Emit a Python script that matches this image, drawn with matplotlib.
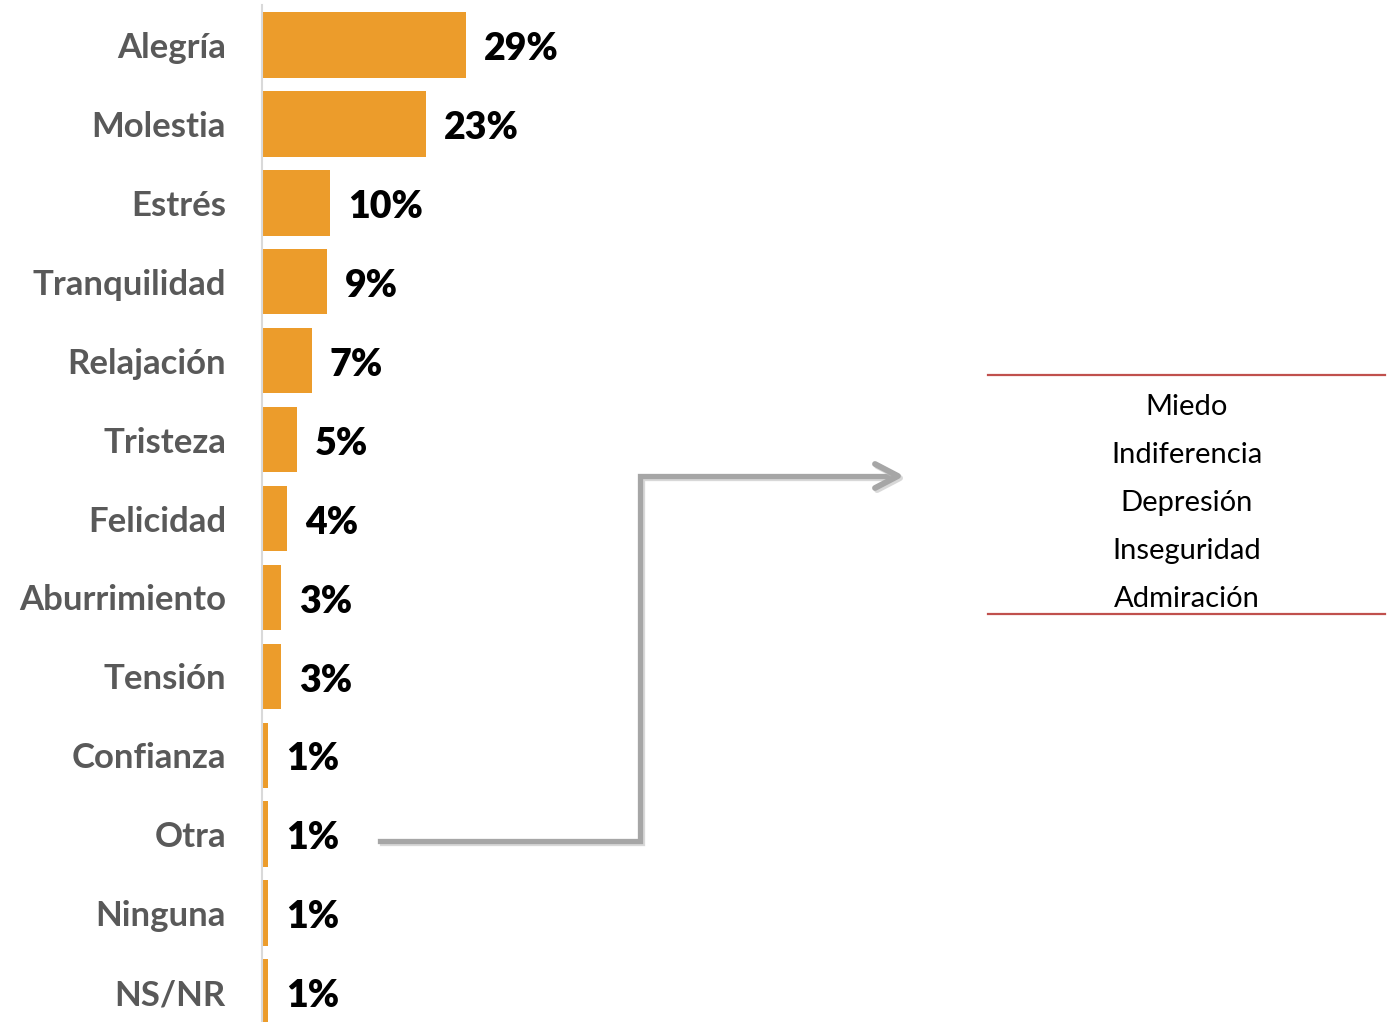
import matplotlib.pyplot as plt
import matplotlib.patheffects as pe
import numpy as np

plt.rcParams['font.family'] = ['Lato', 'DejaVu Sans']

# datos
categorias = ['Alegría', 'Molestia', 'Estrés', 'Tranquilidad', 'Relajación', 'Tristeza',
              'Felicidad', 'Aburrimiento', 'Tensión', 'Confianza', 'Otra', 'Ninguna', 'NS/NR']
valores = [29.0, 23.3, 9.7, 9.2, 7.1, 5.0, 3.6, 2.7, 2.7, 0.85, 0.85, 0.85, 0.85]
etiquetas = ['29%', '23%', '10%', '9%', '7%', '5%', '4%', '3%', '3%', '1%', '1%', '1%', '1%']
otras = ['Miedo', 'Indiferencia', 'Depresión', 'Inseguridad', 'Admiración']

naranja = '#EC9C2B'
gris_txt = '#595959'
gris_flecha = '#A6A6A6'
rojo = '#C0504D'

W, H = 1389, 1022
fig = plt.figure(figsize=(W / 100, H / 100), dpi=100)

# eje de barras
ax = fig.add_axes([262 / W, (H - 1031.5) / H, 422 / W, 1026 / H])
y = np.arange(len(categorias))
ax.barh(y, valores, height=0.83, color=naranja)
ax.set_ylim(len(categorias) - 0.5, -0.5)
ax.set_xlim(0, 60)
ax.set_yticks(y)
ax.set_yticklabels(categorias, fontsize=25, fontweight='bold', color=gris_txt)
ax.tick_params(axis='y', length=0, pad=26)
ax.set_xticks([])
for s in ['top', 'right', 'bottom']:
    ax.spines[s].set_visible(False)
ax.spines['left'].set_color('#D9D9D9')
ax.spines['left'].set_linewidth(1.5)
for yi, v, t in zip(y, valores, etiquetas):
    ax.annotate(t, (v, yi), xytext=(13, -3), textcoords='offset points',
                va='center', ha='left', fontsize=27, fontweight='heavy', color='black')

# flecha "Otra" -> lista
def fx(px):
    return px / W

def fy(py):
    return 1 - py / H

sombra = [pe.SimpleLineShadow(offset=(1.5, -1.5), shadow_color='#BFBFBF', alpha=0.6), pe.Normal()]
fig.add_artist(plt.Line2D([fx(380), fx(640), fx(640), fx(890)],
                          [fy(841), fy(841), fy(476), fy(476)],
                          color=gris_flecha, lw=3.8, solid_joinstyle='miter',
                          path_effects=sombra))
fig.add_artist(plt.Line2D([fx(875), fx(898), fx(875)],
                          [fy(464), fy(476), fy(488)],
                          color=gris_flecha, lw=4.2, solid_capstyle='round',
                          path_effects=sombra))

# lista de otras
fig.add_artist(plt.Line2D([fx(988), fx(1385)], [fy(375), fy(375)], color=rojo, lw=1.6))
fig.add_artist(plt.Line2D([fx(988), fx(1385)], [fy(614), fy(614)], color=rojo, lw=1.6))
for i, t in enumerate(otras):
    fig.text(fx(1187), fy(407 + 48 * i), t, ha='center', va='center', fontsize=21,
             color='black')

fig.savefig('out.png', dpi=100, facecolor='white')
